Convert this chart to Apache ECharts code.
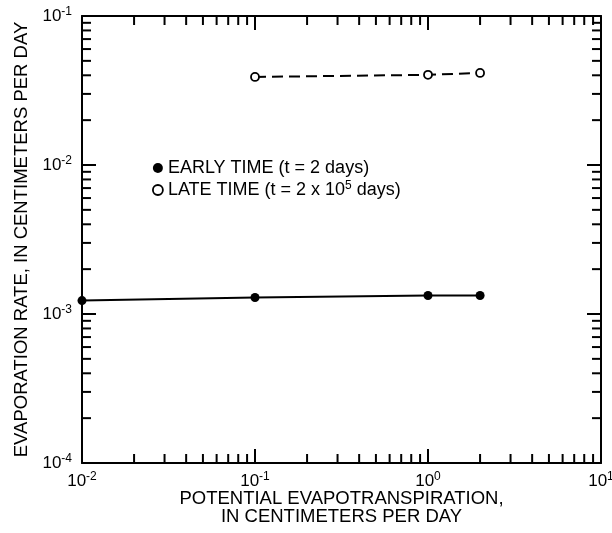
<!DOCTYPE html>
<html><head><meta charset="utf-8">
<script src="https://cdn.jsdelivr.net/npm/echarts@6/dist/echarts.min.js"></script>
<style>html,body{margin:0;padding:0;background:#fff}#c{width:612px;height:533px}</style>
</head><body><div id="c"></div>
<script>
// ---- data ----
const earlyX = [0.01, 0.1, 1, 2];
const earlyY = [0.00123, 0.00129, 0.00133, 0.00133];
const lateX = [0.1, 1, 2];
const lateY = [0.039, 0.0403, 0.0415];
const xRange = [0.01, 10];
const yRange = [0.0001, 0.1];
const xMinorTicks = [0.02,0.03,0.04,0.05,0.06,0.07,0.08,0.09,0.2,0.3,0.4,0.5,0.6,0.7,0.8,0.9,2,3,4,5,6,7,8,9];
const yMinorTicks = [0.0002,0.0003,0.0004,0.0005,0.0006,0.0007,0.0008,0.0009,0.002,0.003,0.004,0.005,0.006,0.007,0.008,0.009,0.02,0.03,0.04,0.05,0.06,0.07,0.08,0.09];
const earlyName = 'EARLY TIME (t = 2 days)';
const lateName = 'LATE TIME (t = 2 x 10^5 days)';
const xTitle = 'POTENTIAL EVAPOTRANSPIRATION,\nIN CENTIMETERS PER DAY';
const yTitle = 'EVAPORATION RATE, IN CENTIMETERS PER DAY';

const FONT = '"Liberation Sans", Arial, sans-serif';
const chart = echarts.init(document.getElementById('c'), null, {renderer: 'canvas'});

const labelRich = {
  b: {fontSize: 17, fontFamily: FONT, color: '#000', lineHeight: 20},
  s: {fontSize: 12, fontFamily: FONT, color: '#000', verticalAlign: 'top', lineHeight: 12, padding: [0, 0, 9, 0]}
};
function expLabel(v) {
  const e = Math.round(Math.log10(v));
  return '{b|10}{s|' + e + '}';
}

const tickData = xMinorTicks.map(v => [v, yRange[0], 0]).concat(yMinorTicks.map(v => [xRange[0], v, 1]));
const MINOR = 9;

function baseAxis(extra) {
  return Object.assign({
    type: 'log', logBase: 10, splitNumber: 3,
    axisLine: {show: true, lineStyle: {color: '#000', width: 2}},
    axisTick: {show: true, inside: true, length: 14, lineStyle: {color: '#000', width: 2}},
    splitLine: {show: false},
    minorTick: {show: false}
  }, extra);
}

chart.setOption({
  animation: false,
  backgroundColor: '#fff',
  grid: {left: 82, right: 11, top: 16, bottom: 70, containLabel: false, outerBoundsMode: 'none'},
  legend: {
    show: true, orient: 'vertical', left: 147, top: 154,
    itemWidth: 10, itemHeight: 10, itemGap: 3, itemTextGap: 14,
    data: [
      {name: earlyName, icon: 'circle', itemStyle: {color: '#000'}},
      {name: lateName, icon: 'circle', itemStyle: {color: '#fff', borderColor: '#000', borderWidth: 1.8}}
    ],
    formatter: function (n) {
      if (n === lateName) return '{t|LATE TIME (t = 2 x 10}{s|5}{t| days)}';
      return '{t|' + n + '}';
    },
    textStyle: {
      fontSize: 18,
      rich: {
        t: {fontSize: 18, fontFamily: FONT, color: '#000', lineHeight: 20},
        s: {fontSize: 12, fontFamily: FONT, color: '#000', verticalAlign: 'top', lineHeight: 12, padding: [0, 0, 9, 0]}
      }
    }
  },
  xAxis: [
    baseAxis({position: 'bottom', min: xRange[0], max: xRange[1],
      name: xTitle, nameLocation: 'middle', nameGap: 27, nameMoveOverlap: false,
      nameTextStyle: {fontSize: 18.5, fontFamily: FONT, color: '#000', lineHeight: 18},
      axisLabel: {show: true, margin: 8, fontSize: 17, fontFamily: FONT, color: '#000', formatter: expLabel, rich: labelRich}}),
    baseAxis({position: 'top', min: xRange[0], max: xRange[1], axisLabel: {show: false}})
  ],
  yAxis: [
    baseAxis({position: 'left', min: yRange[0], max: yRange[1],
      name: yTitle, nameLocation: 'middle', nameGap: 51, nameMoveOverlap: false,
      nameTextStyle: {fontSize: 18.5, fontFamily: FONT, color: '#000'},
      axisLabel: {show: true, margin: 10, fontSize: 17, fontFamily: FONT, color: '#000', formatter: expLabel, rich: labelRich}}),
    baseAxis({position: 'right', min: yRange[0], max: yRange[1], axisLabel: {show: false}})
  ],
  series: [
    {
      name: earlyName, type: 'line', xAxisIndex: 0, yAxisIndex: 0,
      data: earlyX.map((x, i) => [x, earlyY[i]]),
      symbol: 'circle', symbolSize: 9, clip: false,
      lineStyle: {color: '#000', width: 2},
      itemStyle: {color: '#000'}
    },
    {
      name: lateName, type: 'line', xAxisIndex: 0, yAxisIndex: 0,
      data: lateX.map((x, i) => [x, lateY[i]]),
      symbol: 'circle', symbolSize: 8, clip: false,
      lineStyle: {color: '#000', width: 2, type: [11, 6]},
      itemStyle: {color: '#fff', borderColor: '#000', borderWidth: 1.8}
    },
    {
      name: 'minorTicks', type: 'custom', xAxisIndex: 0, yAxisIndex: 0,
      silent: true, clip: false,
      data: tickData,
      renderItem: function (params, api) {
        const cs = params.coordSys;
        const kind = api.value(2);
        const st = {stroke: '#000', lineWidth: 2};
        if (kind === 0) {
          const p = api.coord([api.value(0), yRange[0]]);
          const x = p[0];
          return {type: 'group', children: [
            {type: 'line', shape: {x1: x, y1: cs.y + cs.height, x2: x, y2: cs.y + cs.height - MINOR}, style: st},
            {type: 'line', shape: {x1: x, y1: cs.y, x2: x, y2: cs.y + MINOR}, style: st}
          ]};
        } else {
          const p = api.coord([xRange[0], api.value(1)]);
          const y = p[1];
          return {type: 'group', children: [
            {type: 'line', shape: {x1: cs.x, y1: y, x2: cs.x + MINOR, y2: y}, style: st},
            {type: 'line', shape: {x1: cs.x + cs.width, y1: y, x2: cs.x + cs.width - MINOR, y2: y}, style: st}
          ]};
        }
      }
    }
  ]
});
</script>
</body></html>
